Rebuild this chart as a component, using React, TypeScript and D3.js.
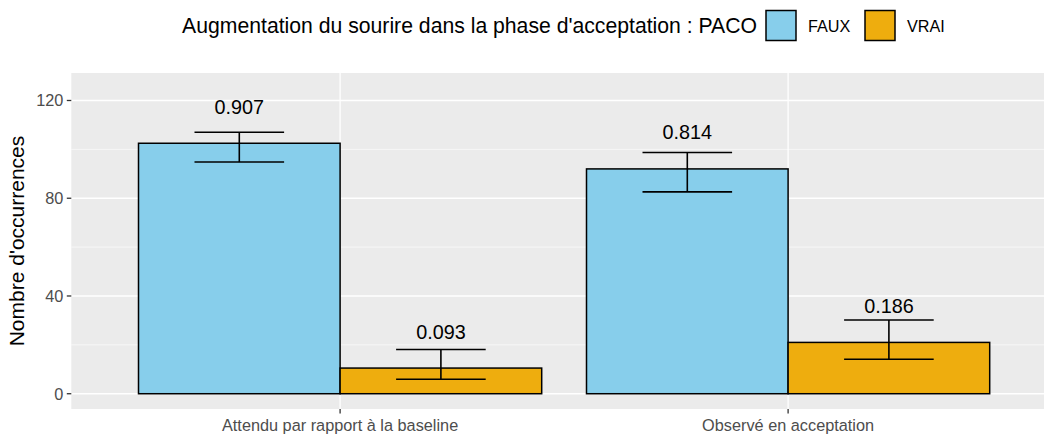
import React from "react";
import * as d3 from "d3";

const categories = ["Attendu par rapport à la baseline", "Observé en acceptation"];
const groups = ["FAUX", "VRAI"];
const fauxCounts = [102.5, 92];
const vraiCounts = [10.5, 21];
const fauxLow = [94.8, 82.6];
const fauxHigh = [107, 98.7];
const vraiLow = [5.9, 14.1];
const vraiHigh = [18.1, 30.2];
const fauxLabels = ["0.907", "0.814"];
const vraiLabels = ["0.093", "0.186"];
const yTicks = [0, 40, 80, 120];
const yMinor = [20, 60, 100];
const legendTitle = "Augmentation du sourire dans la phase d'acceptation : PACO";
const yTitle = "Nombre d'occurrences";
const colors = ["#87CEEB", "#EEAD0E"];

const W = 1044;
const H = 434;
const panelLeft = 71.3;
const panelTop = 73;
const panelBottom = 409;
const FONT = "'Liberation Sans', Arial, sans-serif";

export default function App() {
  const x = d3.scaleLinear().domain([0.4, 2.6]).range([panelLeft, panelLeft + 2.2 * 448]);
  const y = d3.scaleLinear().domain([-6.25, 131.25]).range([panelBottom, panelTop]);
  const panelRight = Math.min(W, x(2.6));
  const unit = x(1) - x(0);
  const barW = 0.45 * unit;

  const series = [
    { counts: fauxCounts, low: fauxLow, high: fauxHigh, labels: fauxLabels, color: colors[0], off: -0.225 },
    { counts: vraiCounts, low: vraiLow, high: vraiHigh, labels: vraiLabels, color: colors[1], off: 0.225 },
  ];

  return (
    <div style={{ position: "absolute", left: 0, top: 0 }}>
      <svg width={W} height={H} style={{ display: "block", background: "#fff" }} fontFamily={FONT}>
        <rect x={panelLeft} y={panelTop} width={panelRight - panelLeft} height={panelBottom - panelTop} fill="#EBEBEB" />
        {yMinor.map((t) => (
          <line key={"mn" + t} x1={panelLeft} x2={panelRight} y1={y(t)} y2={y(t)} stroke="#fff" strokeWidth={0.6} />
        ))}
        {yTicks.map((t) => (
          <line key={"mj" + t} x1={panelLeft} x2={panelRight} y1={y(t)} y2={y(t)} stroke="#fff" strokeWidth={1.3} />
        ))}
        {categories.map((c, i) => (
          <line key={"vx" + i} x1={x(i + 1)} x2={x(i + 1)} y1={panelTop} y2={panelBottom} stroke="#fff" strokeWidth={1.3} />
        ))}
        {series.map((s, si) =>
          categories.map((c, i) => {
            const cx = x(i + 1 + s.off);
            return (
              <g key={"b" + si + "-" + i}>
                <rect
                  x={cx - barW / 2}
                  y={y(s.counts[i])}
                  width={barW}
                  height={y(0) - y(s.counts[i])}
                  fill={s.color}
                  stroke="#000"
                  strokeWidth={1.5}
                />
              </g>
            );
          })
        )}
        {series.map((s, si) =>
          categories.map((c, i) => {
            const cx = x(i + 1 + s.off);
            const hw = 0.1 * unit;
            return (
              <g key={"e" + si + "-" + i} stroke="#000" strokeWidth={1.6}>
                <line x1={cx} x2={cx} y1={y(s.low[i])} y2={y(s.high[i])} />
                <line x1={cx - hw} x2={cx + hw} y1={y(s.low[i])} y2={y(s.low[i])} />
                <line x1={cx - hw} x2={cx + hw} y1={y(s.high[i])} y2={y(s.high[i])} />
              </g>
            );
          })
        )}
        {series.map((s, si) =>
          categories.map((c, i) => (
            <text
              key={"l" + si + "-" + i}
              x={x(i + 1 + s.off)}
              y={y(s.counts[i] + 12.1)}
              textAnchor="middle"
              fontSize={19.8}
              fill="#000"
            >
              {s.labels[i]}
            </text>
          ))
        )}
        {/* y axis */}
        {yTicks.map((t) => (
          <g key={"yt" + t}>
            <line x1={panelLeft - 4.5} x2={panelLeft} y1={y(t)} y2={y(t)} stroke="#333" strokeWidth={1.3} />
            <text x={panelLeft - 8} y={y(t)} dy="0.36em" textAnchor="end" fontSize={16.3} fill="#4D4D4D">
              {t}
            </text>
          </g>
        ))}
        <text
          transform={`translate(24, ${(panelTop + panelBottom) / 2}) rotate(-90)`}
          textAnchor="middle"
          fontSize={21}
          fill="#000"
        >
          {yTitle}
        </text>
        {/* x axis */}
        {categories.map((c, i) => (
          <g key={"xt" + i}>
            <line x1={x(i + 1)} x2={x(i + 1)} y1={panelBottom} y2={panelBottom + 4.5} stroke="#333" strokeWidth={1.3} />
            <text x={x(i + 1)} y={430.5} textAnchor="middle" fontSize={16.3} fill="#4D4D4D">
              {c}
            </text>
          </g>
        ))}
        {/* legend */}
        <text x={757} y={32.8} textAnchor="end" fontSize={21.2} fill="#000">
          {legendTitle}
        </text>
        {groups.map((g, i) => {
          const kx = [766, 865][i];
          return (
            <g key={"lg" + g}>
              <rect x={kx} y={10.5} width={30} height={30} fill={colors[i]} stroke="#000" strokeWidth={1.5} />
              <text x={kx + 42} y={32} fontSize={16.2} fill="#000">
                {g}
              </text>
            </g>
          );
        })}
      </svg>
    </div>
  );
}
